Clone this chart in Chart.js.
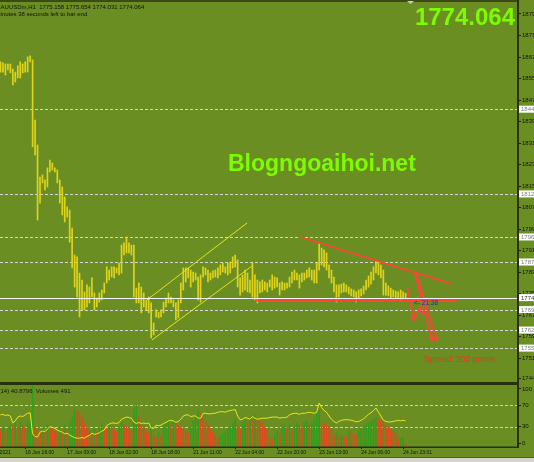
<!DOCTYPE html>
<html><head><meta charset="utf-8">
<script src="https://cdn.jsdelivr.net/npm/chart.js@4.4.1/dist/chart.umd.min.js"></script>
<style>
html,body{margin:0;padding:0;background:#6b8e23;overflow:hidden;width:534px;height:462px}
#wrap{position:relative;width:560px;height:462px}
#c1{position:absolute;left:0;top:0}
#c2{position:absolute;left:0;top:384px}
</style></head><body>
<div id="wrap"><canvas id="c1" width="560" height="384"></canvas><canvas id="c2" width="560" height="78"></canvas></div>
<script>
// ---- data (XAUUSDm H1, bar index 0 = first visible bar) ----
const highs = [
 1861.7,1861.3,1860.9,1860.9,1860.9,1859.0,1857.9,1860.2,1861.7,1860.9,1861.7,1863.5,1863.9,
 1862.4,1840.1,1830.8,1818.9,1819.7,1817.8,1822.3,1825.2,1824.1,1822.3,1821.5,1817.8,
 1815.2,1811.5,1807.8,1806.6,1799.9,1789.9,1789.2,1783.2,1780.6,1776.2,1778.8,1778.0,
 1781.4,1775.8,1773.9,1775.8,1776.9,1779.5,1785.5,1784.3,1785.5,1785.5,1785.1,1786.9,
 1793.6,1794.4,1796.6,1794.4,1793.6,1793.6,1777.6,1779.5,1778.0,1775.8,1773.2,1774.3,
 1772.1,1764.6,1769.5,1768.7,1769.5,1772.4,1773.9,1775.8,1774.3,1773.2,1772.1,1773.2,
 1779.5,1785.1,1785.1,1785.1,1784.3,1783.6,1783.2,1781.7,1782.5,1785.5,1785.1,1784.3,
 1783.2,1784.0,1784.3,1785.1,1786.2,1786.9,1785.5,1786.9,1787.3,1789.2,1789.9,1788.1,
 1781.4,1782.5,1784.3,1783.2,1780.6,1786.9,1782.5,1780.6,1779.9,1780.6,1779.9,1779.5,
 1780.6,1782.5,1781.7,1781.4,1779.5,1779.9,1779.5,1779.5,1781.7,1783.6,1784.3,1783.2,
 1782.5,1783.2,1783.2,1784.3,1785.1,1784.3,1784.3,1786.9,1794.4,1792.5,1791.8,1790.7,
 1786.2,1784.3,1781.7,1778.8,1778.8,1779.1,1779.5,1778.8,1778.0,1777.3,1776.9,1776.2,
 1776.9,1777.3,1778.4,1780.6,1782.1,1783.6,1785.5,1787.7,1787.3,1786.2,1784.3,1779.5,
 1778.4,1777.6,1776.9,1776.5,1776.2,1776.9,1776.2,1775.654
];
const lows = [
 1857.9,1857.9,1856.8,1858.7,1857.6,1853.1,1854.2,1855.7,1855.7,1857.6,1857.9,1857.9,1861.7,
 1830.1,1827.1,1802.9,1809.2,1816.7,1814.1,1815.2,1820.8,1821.5,1820.8,1816.7,1809.2,
 1804.8,1802.2,1804.0,1794.7,1785.1,1778.0,1774.3,1766.9,1769.5,1769.5,1770.6,1772.1,
 1774.3,1769.5,1770.6,1772.4,1773.2,1775.8,1779.5,1780.6,1781.7,1781.4,1783.2,1782.5,
 1783.2,1789.9,1790.7,1790.7,1789.9,1774.3,1772.1,1772.1,1768.4,1770.6,1769.5,1768.4,
 1759.1,1760.2,1766.9,1766.5,1766.9,1768.4,1770.6,1772.1,1772.1,1770.6,1765.8,1766.5,
 1772.1,1776.9,1779.9,1781.4,1778.0,1779.9,1780.6,1773.2,1772.4,1781.7,1782.5,1779.9,
 1780.6,1781.4,1781.7,1781.4,1782.5,1783.6,1783.2,1782.5,1783.2,1785.1,1785.5,1778.0,
 1775.0,1776.2,1776.9,1776.2,1775.8,1774.3,1773.2,1772.1,1775.8,1776.2,1776.9,1776.2,
 1778.0,1776.9,1777.6,1778.0,1775.0,1776.9,1776.9,1777.6,1778.0,1779.5,1780.6,1780.6,
 1777.6,1779.9,1780.6,1781.4,1781.7,1780.6,1779.5,1779.5,1784.3,1786.2,1785.5,1784.3,
 1781.4,1779.5,1776.2,1772.4,1774.3,1775.8,1776.2,1776.2,1775.4,1774.7,1774.3,1772.4,
 1773.9,1774.7,1775.4,1776.9,1778.0,1779.1,1780.6,1783.2,1782.5,1781.4,1775.0,1775.0,
 1774.7,1773.9,1774.3,1773.9,1773.9,1773.2,1773.9,1774.031
];
const volumes = [
 2950,3280,2620,3120,3610,3440,3940,3280,4100,3610,
 3120,3940,4430,11480,3280,2950,2300,3120,2620,3610,
 3280,2950,2620,2300,3280,2790,3610,2950,3940,4920,
 6230,5900,5740,4920,3940,3280,2620,1970,2950,2460,
 3280,3940,3280,2950,3610,3280,2790,2460,3120,3940,
 3610,3280,2950,2620,6230,6890,4920,3610,3280,2620,
 2300,3610,1970,1640,2300,1970,3280,3940,4260,3610,
 4260,3940,3610,3280,2950,2620,2300,3280,4260,4920,
 5900,5410,4590,4100,3610,2950,2460,1970,1480,1970,
 2300,2620,2950,3280,3940,4590,3610,2950,3940,4590,
 4100,4920,4430,5250,4760,4260,3940,3280,2950,1480,
 1310,1970,2620,2300,3280,3610,3280,3610,2950,3440,
 3940,3610,3280,3940,4260,3610,3940,4590,5410,5900,
 3940,3770,3610,3280,2950,1970,2300,1640,1970,1800,
 1640,2620,2460,2130,1970,2620,3120,3440,3770,3940,
 4260,4590,4920,4590,4430,4260,3610,3280,2950,2620,
 2300,1310,1480,1640,491
];
const rsi = [
 52,53,51,52,50,37,41,48,50,49,
 52,55,56,17,12,11,20,22,21,26,
 30,29,27,24,22,20,17,18,15,12,
 10,9,9,10,9,12,14,18,16,17,
 19,22,24,32,35,37,37,36,38,44,
 46,48,47,46,39,36,38,36,37,36,
 37,28,27,33,32,33,36,38,41,42,
 41,38,40,44,50,52,52,49,50,50,
 46,46,55,55,54,54,55,55,57,58,
 58,57,59,60,61,62,50,43,44,47,
 46,44,49,46,44,45,46,46,46,47,
 48,48,48,46,47,47,48,52,54,55,
 55,53,55,55,56,57,56,55,57,74,
 66,60,57,50,44,40,37,40,42,43,
 43,43,42,41,39,40,42,45,49,53,
 56,60,65,57,50,42,40,39,39,40,
 41,42,41,42,40.8796
];
const xTickBars   = [-7,10,27,44,61,78,95,112,129,146,163];
const xTickLabels = ["15 Jun 2021","16 Jun 16:00","17 Jun 09:00","18 Jun 02:00","18 Jun 18:00","21 Jun 11:00","22 Jun 04:00","22 Jun 20:00","23 Jun 13:00","24 Jun 06:00","24 Jun 23:01"];
const priceTicks  = [1744.0,1751.5,1759.5,1767.5,1775.5,1783.5,1791.5,1799.5,1807.5,1815.5,1823.5,1831.5,1839.5,1847.5,1855.5,1863.5,1871.5,1879.5];
const rsiTicks    = [0,30,70,100];
const rsiLevels   = [70,30];
const levelLines  = [1844.1,1812.6,1796.6,1787.3,1769.6,1762.0,1755.3];
const lastPrice   = 1774.064;
const titleText   = "XAUUSDm,H1  1775.158 1775.654 1774.031 1774.064";
const timerText   = "21 minutes 38 seconds left to bar end";
const rsiText     = "RSI(14) 40.8796  Volumes 491";
// drawn analysis objects, in (bar index, price)
const channelUpper = [{x:59.3,y:1773.2},{x:99.8,y:1801.8}];
const channelLower = [{x:61.3,y:1758.3},{x:101.8,y:1785.8}];
const resistance   = [{x:121.3,y:1796.6},{x:182.8,y:1779.1}];
const support      = [{x:103.0,y:1773.0},{x:185.2,y:1773.0}];
const arrowA       = [{x:164.6,y:1778.0},{x:167.4,y:1765.8},{x:169.8,y:1770.6},{x:171.1,y:1767.5}];
const arrowB       = [{x:167.8,y:1783.2},{x:174.7,y:1758.0}];
const arrowC       = [{x:168.2,y:1783.2},{x:176.7,y:1758.0}];

// ---- styles ----
const FONT = '"Liberation Sans", Arial, sans-serif';
Chart.defaults.font.family = FONT;
const DARK = '#27310d';
const xMin = -0.2, xMax = 209.5;
const pMin = 1742.7, pMax = 1883.2;

const mainOverlay = {
  id:'mainOverlay',
  beforeDatasetsDraw(chart){
    const ctx = chart.ctx, y = chart.scales.y, a = chart.chartArea;
    ctx.save();
    ctx.strokeStyle = '#d6d6d6'; ctx.lineWidth = 1; ctx.setLineDash([3,2]);
    levelLines.forEach(v=>{
      const py = Math.round(y.getPixelForValue(v)) + 0.5;
      ctx.beginPath(); ctx.moveTo(a.left, py); ctx.lineTo(a.right, py); ctx.stroke();
    });
    ctx.restore();
  },
  afterDatasetsDraw(chart){
    const ctx = chart.ctx, y = chart.scales.y, a = chart.chartArea;
    ctx.save();
    const py = Math.round(y.getPixelForValue(lastPrice)) + 0.5;
    ctx.strokeStyle = '#f4f4f4'; ctx.lineWidth = 1;
    ctx.beginPath(); ctx.moveTo(a.left, py); ctx.lineTo(a.right, py); ctx.stroke();
    ctx.strokeStyle = '#ff4436'; ctx.lineWidth = 1.6;
    chart.data.datasets.forEach((ds, di)=>{
      if (ds.arrowAt === undefined) return;
      const pts = chart.getDatasetMeta(di).data;
      const p1 = pts[ds.arrowAt-1], p2 = pts[ds.arrowAt];
      const ang = Math.atan2(p2.y-p1.y, p2.x-p1.x);
      const L = 5;
      ctx.beginPath();
      ctx.moveTo(p2.x - L*Math.cos(ang-0.45), p2.y - L*Math.sin(ang-0.45));
      ctx.lineTo(p2.x, p2.y);
      ctx.lineTo(p2.x - L*Math.cos(ang+0.45), p2.y - L*Math.sin(ang+0.45));
      ctx.stroke();
    });
    ctx.restore();
  },
  afterDraw(chart){
    const ctx = chart.ctx, y = chart.scales.y;
    ctx.save();
    ctx.fillStyle = '#3b4a16'; ctx.fillRect(0,0,519,2);
    ctx.fillStyle = DARK; ctx.fillRect(517,0,2,384);
    ctx.fillRect(0,382,519,2);
    ctx.fillStyle = '#c8cfb0';
    ctx.beginPath(); ctx.moveTo(407,1); ctx.lineTo(414,1); ctx.lineTo(410.5,4); ctx.closePath(); ctx.fill();
    ctx.fillStyle = '#111'; ctx.font = '6px ' + FONT; ctx.textBaseline = 'alphabetic';
    ctx.fillText(titleText, -ctx.measureText('X').width + 0.5, 8.5);
    ctx.fillText(timerText, -ctx.measureText('21 m').width + 0.5, 16);
    ctx.fillStyle = '#7cfc00'; ctx.font = 'bold 24px ' + FONT; ctx.textAlign = 'right';
    ctx.fillText(lastPrice.toFixed(3), 515, 25);
    ctx.textAlign = 'left'; ctx.font = 'bold 23px ' + FONT;
    ctx.fillText('Blogngoaihoi.net', 228, 171, 196);
    ctx.fillStyle = '#ee3420'; ctx.font = '8.5px ' + FONT;
    ctx.fillText('Spread: 200 points', 424, 362);
    ctx.fillStyle = '#24309a'; ctx.font = '6.5px ' + FONT;
    ctx.fillText('<- 21:38', 414, 305);
    ctx.font = '6px ' + FONT;
    const boxes = levelLines.map(v=>({v, c:'#7c7c7c'})).concat([{v:lastPrice, c:'#333'}]);
    boxes.forEach(b=>{
      const py = y.getPixelForValue(b.v);
      ctx.fillStyle = '#ffffff'; ctx.fillRect(519, py-3.5, 41, 7);
      ctx.fillStyle = b.c; ctx.fillText(b.v.toFixed(2), 521, py+2.2);
    });
    ctx.restore();
  }
};

const redLine = (data, extra) => Object.assign({type:'line', data, borderColor:'#ff4436', borderWidth:1.8, pointRadius:0, tension:0, order:0}, extra||{});

new Chart(document.getElementById('c1'), {
  type:'bar',
  data:{ datasets:[
    {type:'line', data:channelUpper, borderColor:'#e4e41e', borderWidth:1, pointRadius:0, order:0},
    {type:'line', data:channelLower, borderColor:'#e4e41e', borderWidth:1, pointRadius:0, order:0},
    redLine(resistance),
    redLine(support),
    redLine(arrowA, {arrowAt:1}),
    redLine(arrowB, {arrowAt:1}),
    redLine(arrowC, {arrowAt:1}),
    {type:'bar', data: highs.map((h,i)=>({x:i, y:[lows[i], h]})), backgroundColor:'#e0d41a', borderWidth:0, barThickness:1.0, order:5}
  ]},
  options:{
    responsive:false, animation:false, devicePixelRatio:1,
    layout:{padding:{top:4,bottom:2,left:0,right:0}},
    plugins:{legend:{display:false}, tooltip:{enabled:false}},
    scales:{
      x:{type:'linear', display:false, min:xMin, max:xMax, offset:false, grid:{offset:false}},
      y:{type:'linear', position:'right', min:pMin, max:pMax, beginAtZero:false,
        afterBuildTicks: s => { s.ticks = priceTicks.map(v=>({value:v})); },
        afterFit: s => { s.width = 42; s.paddingTop = 0; s.paddingBottom = 0; },
        ticks:{autoSkip:false, padding:1, color:'#111', font:{size:6}, callback: v => Number(v).toFixed(2)},
        grid:{drawOnChartArea:false, drawTicks:true, tickLength:3, color:'#1c2408', lineWidth:1},
        border:{display:false}
      }
    }
  },
  plugins:[mainOverlay]
});

const indOverlay = {
  id:'indOverlay',
  beforeDatasetsDraw(chart){
    const ctx = chart.ctx, y = chart.scales.y, a = chart.chartArea;
    ctx.save();
    ctx.strokeStyle = '#cfcfcf'; ctx.lineWidth = 1; ctx.setLineDash([3,2]);
    rsiLevels.forEach(v=>{
      const py = Math.round(y.getPixelForValue(v)) + 0.5;
      ctx.beginPath(); ctx.moveTo(a.left, py); ctx.lineTo(a.right, py); ctx.stroke();
    });
    ctx.restore();
  },
  afterDraw(chart){
    const ctx = chart.ctx;
    ctx.save();
    ctx.fillStyle = DARK;
    ctx.fillRect(0,0,519,1);
    ctx.fillRect(517,0,2,64);
    ctx.fillRect(0,62.5,519,1.5);
    ctx.fillStyle = '#4f6020'; ctx.fillRect(0,73,560,1);
    ctx.fillStyle = '#d6d3cc'; ctx.fillRect(0,74,560,4);
    ctx.fillStyle = '#111'; ctx.font = '6px ' + FONT;
    ctx.fillText(rsiText, -ctx.measureText('RSI(').width + 0.5, 9);
    ctx.restore();
  }
};

const volColors = volumes.map((v,i)=> (i>0 && v > volumes[i-1]) ? '#2f9e1e' : '#e4461e');

new Chart(document.getElementById('c2'), {
  type:'bar',
  data:{ datasets:[
    {type:'line', data: rsi.map((v,i)=>({x:i, y:v})), yAxisID:'y', borderColor:'#e8e81a', borderWidth:1, pointRadius:0, tension:0, order:0},
    {type:'bar', data: volumes.map((v,i)=>({x:i, y:v})), yAxisID:'yv', backgroundColor:volColors, borderWidth:0, barThickness:1.0, order:1}
  ]},
  options:{
    responsive:false, animation:false, devicePixelRatio:1,
    layout:{padding:{top:1,bottom:0,left:0,right:0}},
    plugins:{legend:{display:false}, tooltip:{enabled:false}},
    scales:{
      x:{type:'linear', position:'bottom', min:xMin, max:xMax, offset:false,
        afterBuildTicks: s => { s.ticks = xTickBars.map(v=>({value:v})); },
        afterFit: s => { s.height = 15; s.paddingLeft = 0; s.paddingRight = 0; },
        ticks:{autoSkip:false, maxRotation:0, minRotation:0, align:'start', padding:1, color:'#111', font:{size:5},
          callback: v => xTickLabels[xTickBars.indexOf(v)]},
        grid:{drawOnChartArea:false, offset:false, tickLength:2, color:'#1c2408'},
        border:{display:false}
      },
      y:{type:'linear', position:'right', min:-7.4, max:107.4, beginAtZero:false,
        afterBuildTicks: s => { s.ticks = rsiTicks.map(v=>({value:v})); },
        afterFit: s => { s.width = 42; s.paddingTop = 0; s.paddingBottom = 0; },
        ticks:{autoSkip:false, padding:1, color:'#111', font:{size:6}, callback: v => String(v)},
        grid:{drawOnChartArea:false, drawTicks:true, tickLength:3, color:'#1c2408'},
        border:{display:false}
      },
      yv:{type:'linear', display:false, min:0, max:10170, beginAtZero:true}
    }
  },
  plugins:[indOverlay]
});
</script>
</body></html>
